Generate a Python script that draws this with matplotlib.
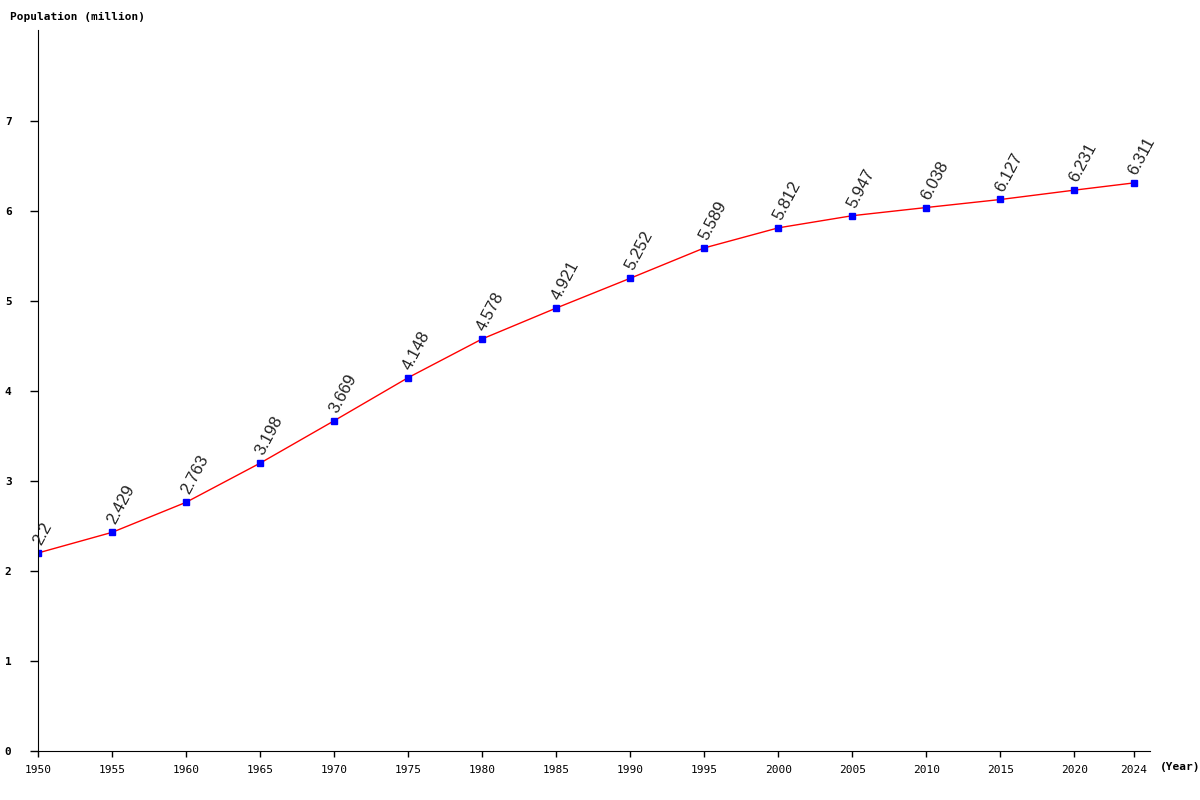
import matplotlib.pyplot as plt

years = [1950, 1955, 1960, 1965, 1970, 1975, 1980, 1985, 1990, 1995,
         2000, 2005, 2010, 2015, 2020, 2024]
population = [2.2, 2.429, 2.763, 3.198, 3.669, 4.148, 4.578, 4.921, 5.252, 5.589,
              5.812, 5.947, 6.038, 6.127, 6.231, 6.311]
labels = ['2.2', '2.429', '2.763', '3.198', '3.669', '4.148', '4.578', '4.921',
          '5.252', '5.589', '5.812', '5.947', '6.038', '6.127', '6.231', '6.311']

fig = plt.figure(figsize=(12, 8), dpi=100)
ax = fig.add_axes([38 / 1200, 1 - 751 / 800, (1150 - 38) / 1200, (751 - 30) / 800])

ax.plot(years, population, color='red', linewidth=1)
ax.plot(years, population, linestyle='none', marker='s', markersize=4,
        color='blue')

for x, y, s in zip(years, population, labels):
    ax.annotate(s, (x, y), xytext=(4, 4), textcoords='offset points',
                rotation=62, rotation_mode='anchor', ha='left', va='bottom',
                fontsize=12, color='#222222', family='Liberation Sans')

ax.set_xlim(1950, 2025.1)
ax.set_ylim(0, 8.01)
ax.set_xticks(years)
ax.set_xticklabels([str(y) for y in years], family='DejaVu Sans Mono', fontsize=8)
ax.set_yticks(range(8))
ax.set_yticklabels([str(i) for i in range(8)], family='DejaVu Sans Mono',
                   fontsize=8, fontweight='bold')
ax.tick_params(axis='y', length=6, width=1, pad=13)
ax.tick_params(axis='x', length=4, width=1, pad=6)

for side in ['top', 'right']:
    ax.spines[side].set_visible(False)

fig.text(10 / 1200, 1 - 17 / 800, 'Population (million)', family='DejaVu Sans Mono',
         fontsize=8, fontweight='bold', va='center', ha='left')
fig.text(1160 / 1200, 1 - 767 / 800, '(Year)', family='DejaVu Sans Mono',
         fontsize=8, fontweight='bold', va='center', ha='left')

fig.savefig('out.png', dpi=100)
